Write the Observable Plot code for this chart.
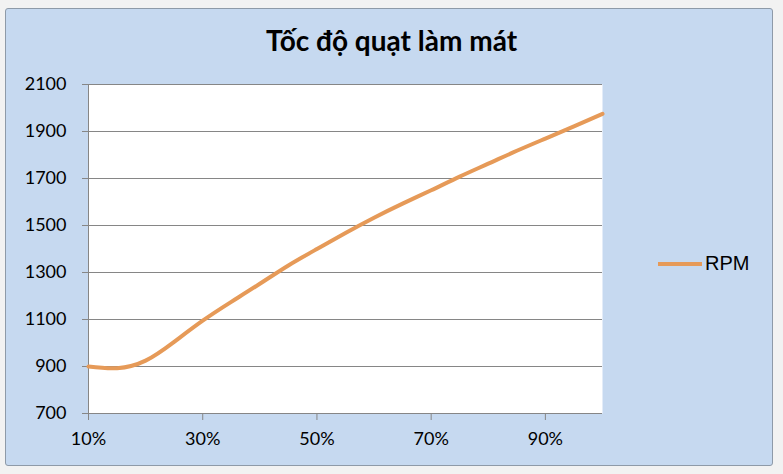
<!DOCTYPE html>
<html>
<head>
<meta charset="utf-8">
<script src="https://cdn.jsdelivr.net/npm/d3@7"></script>
<script src="https://cdn.jsdelivr.net/npm/@observablehq/plot@0.6"></script>
<style>
  html, body { margin: 0; padding: 0; background: #f2f2f2; }
  #wrap { position: relative; width: 783px; height: 474px; overflow: hidden; }
  #box { position: absolute; left: 5px; top: 8px; width: 766px; height: 456px;
         background: #c6d9f0; border: 1px solid #8e9aa8; border-radius: 3px; }
  #chart { position: absolute; left: 0; top: 0; }
  #title { position: absolute; left: 0; width: 783px; top: 23px; text-align: center;
           font-family: Lato, "Open Sans", sans-serif; font-weight: bold; font-size: 28px; color: #000; }
  #legend { position: absolute; left: 658px; top: 252px; font-family: "Liberation Sans", Arial, sans-serif;
            font-size: 20px; color: #000; display: flex; align-items: center; }
  #legend .sw { width: 44px; height: 4px; background: #e69a58; margin-right: 3px; }
</style>
</head>
<body>
<div id="wrap">
  <div id="box"></div>
  <div id="chart"></div>
  <div id="title">Tốc độ quạt làm mát</div>
  <div id="legend"><span class="sw"></span><span>RPM</span></div>
</div>
<script>
const speed = [10, 15, 20, 25, 30, 35, 40, 45, 50, 55, 60, 65, 70, 75, 80, 85, 90, 95, 100];
const rpm   = [900, 893, 925, 1005, 1095, 1175, 1252, 1330, 1400, 1468, 1533, 1593, 1650, 1708, 1763, 1818, 1870, 1922, 1975];
const yTicks = [700, 900, 1100, 1300, 1500, 1700, 1900, 2100];
const xTicks = [10, 30, 50, 70, 90];
const seriesName = "RPM";

const data = speed.map((s, i) => ({speed: s, rpm: rpm[i], series: seriesName}));

const chart = Plot.plot({
  width: 783,
  height: 474,
  marginLeft: 88,
  marginRight: 181,
  marginTop: 84,
  marginBottom: 61,
  style: {background: "transparent", fontFamily: "Lato, 'Open Sans', sans-serif", fontSize: "18px", color: "#000"},
  x: {domain: [10, 100], ticks: xTicks, tickFormat: d => d + "%"},
  y: {domain: [700, 2100], ticks: yTicks, tickFormat: d => String(d)},
  marks: [
    Plot.frame({fill: "white", stroke: null}),
    Plot.gridY(yTicks, {stroke: "#868686", strokeOpacity: 1, strokeWidth: 1}),
    Plot.axisY({ticks: yTicks, tickSize: 6, tickPadding: 16, stroke: "#868686", label: null, tickFormat: d => String(d), fontSize: 18}),
    Plot.axisX({ticks: xTicks, tickSize: 7, tickPadding: 12, stroke: "#868686", label: null, tickFormat: d => d + "%", fontSize: 18}),
    Plot.ruleX([10], {stroke: "#868686"}),
    Plot.ruleY([700], {stroke: "#868686"}),
    Plot.line(data, {x: "speed", y: "rpm", stroke: "#e69a58", strokeWidth: 4, curve: "natural"})
  ]
});
document.getElementById("chart").appendChild(chart);
</script>
</body>
</html>
